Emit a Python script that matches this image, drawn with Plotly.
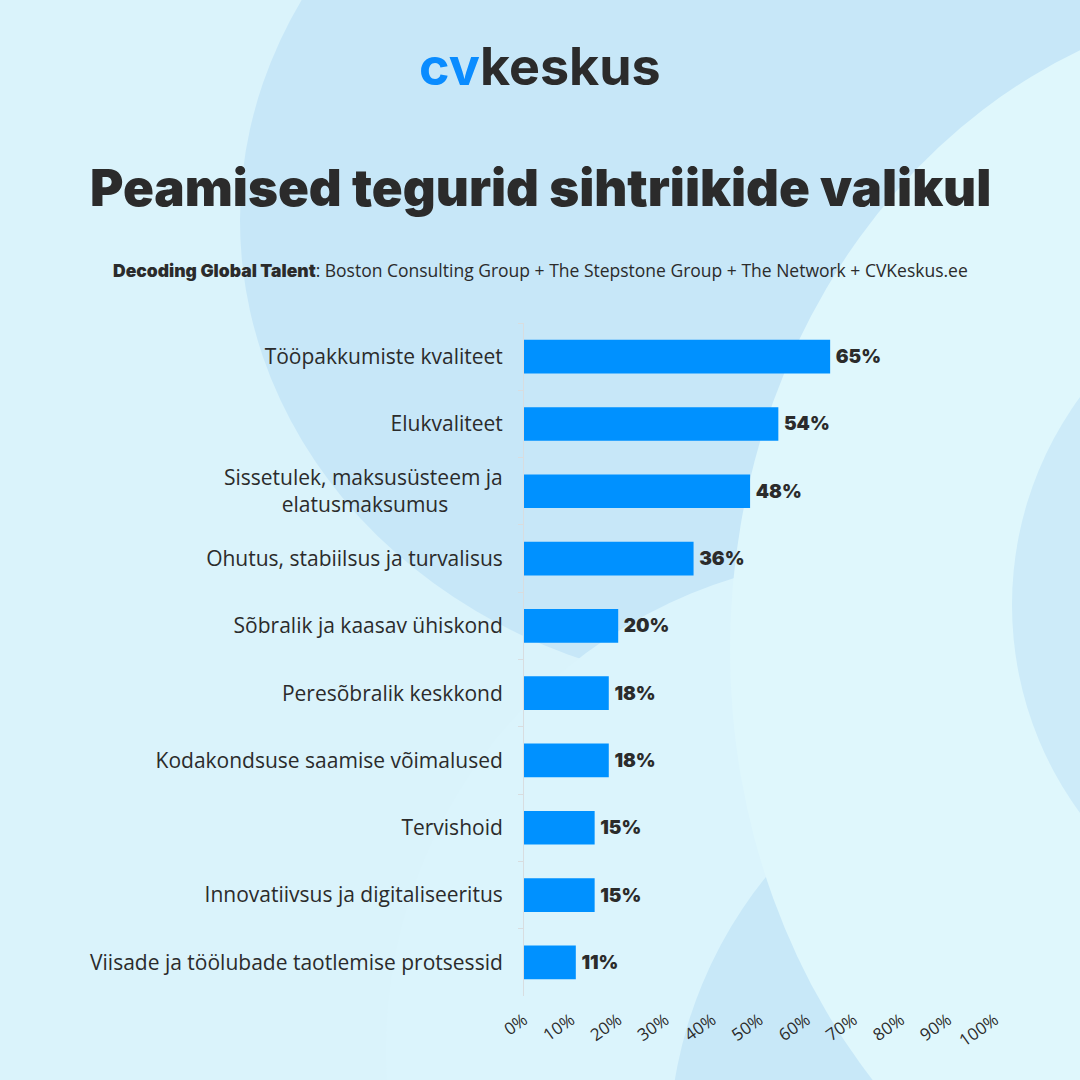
import plotly.graph_objects as go

categories = [
    "Tööpakkumiste kvaliteet",
    "Elukvaliteet",
    "Sissetulek, maksusüsteem ja<br>elatusmaksumus" + "\u00a0" * 10,
    "Ohutus, stabiilsus ja turvalisus",
    "Sõbralik ja kaasav ühiskond",
    "Peresõbralik keskkond",
    "Kodakondsuse saamise võimalused",
    "Tervishoid",
    "Innovatiivsus ja digitaliseeritus",
    "Viisade ja töölubade taotlemise protsessid",
]
values = [65, 54, 48, 36, 20, 18, 18, 15, 15, 11]
x_ticks = [0, 10, 20, 30, 40, 50, 60, 70, 80, 90, 100]
x_tick_labels = [f"{t}%" for t in x_ticks]

W, H = 1080, 1080
ML, MR, MT, MB = 524, 85, 323, 84
PW, PH = W - ML - MR, H - MT - MB

def px(x):
    return (x - ML) / PW

def py(y):
    return (H - MB - y) / PH

DARK = "#2b2b2b"
BLUE = "#0091ff"
LABEL_FONT = "Open Sans"

fig = go.Figure(go.Bar(
    x=values, y=categories, orientation="h",
    marker=dict(color=BLUE, line=dict(width=0)),
    width=0.5,
    text=[f"\u2009{v}%" for v in values], textposition="outside",
    textfont=dict(family="Inter", size=19, color=DARK, weight=900),
    cliponaxis=False,
))

def ell(cx, cy, rx, ry, color):
    return dict(type="circle", xref="paper", yref="paper",
                x0=px(cx - rx), x1=px(cx + rx), y0=py(cy + ry), y1=py(cy - ry),
                fillcolor=color, line=dict(width=0), layer="below")

shapes = [
    ell(770, 220, 530, 470, "#c7e7f8"),
    ell(880, 1050, 494, 494, "#dbf4fc"),
    ell(1105, 1151, 436, 436, "#c8e8f8"),
    ell(1300, 650, 570, 650, "#dff7fc"),
    ell(1364, 605, 352, 352, "#cdebf9"),
]

annotations = [
    dict(text="<span style='color:#0a8cff'>cv</span>keskus", x=px(540), y=py(66),
         xref="paper", yref="paper", showarrow=False, xanchor="center", yanchor="middle",
         font=dict(family="Inter", size=52, color=DARK, weight=700)),
    dict(text="Peamised tegurid sihtriikide valikul", x=px(540), y=py(187),
         xref="paper", yref="paper", showarrow=False, xanchor="center", yanchor="middle",
         font=dict(family="Inter", size=51, color=DARK, weight=900)),
    dict(text="<span style='font-family:Inter;font-weight:900'>Decoding Global Talent</span>: Boston Consulting Group + The Stepstone Group + The Network + CVKeskus.ee",
         x=px(540), y=py(270), xref="paper", yref="paper", showarrow=False,
         xanchor="center", yanchor="middle",
         font=dict(family=LABEL_FONT, size=17.5, color=DARK)),
]

fig.update_layout(
    width=W, height=H,
    margin=dict(l=ML, r=MR, t=MT, b=MB),
    paper_bgcolor="#daf3fb", plot_bgcolor="rgba(0,0,0,0)",
    showlegend=False, shapes=shapes, annotations=annotations,
    bargap=0.5,
    xaxis=dict(range=[0, 100], tickvals=x_ticks, ticktext=x_tick_labels,
               showgrid=False, zeroline=False, showline=False, tickangle=-35,
               tickfont=dict(family=LABEL_FONT, size=17, color=DARK), ticks="",
               ticklabelstandoff=10),
    yaxis=dict(autorange="reversed", showgrid=False, zeroline=False,
               showline=True, linecolor="#d8dde0", linewidth=1,
               ticks="outside", tickson="boundaries", ticklen=5, tickcolor="#d8dde0",
               tickfont=dict(family=LABEL_FONT, size=21, color=DARK),
               ticklabelstandoff=16),
)

fig.write_html("out.html", config={"displayModeBar": False},
               post_script="document.body.style.margin='0';")
